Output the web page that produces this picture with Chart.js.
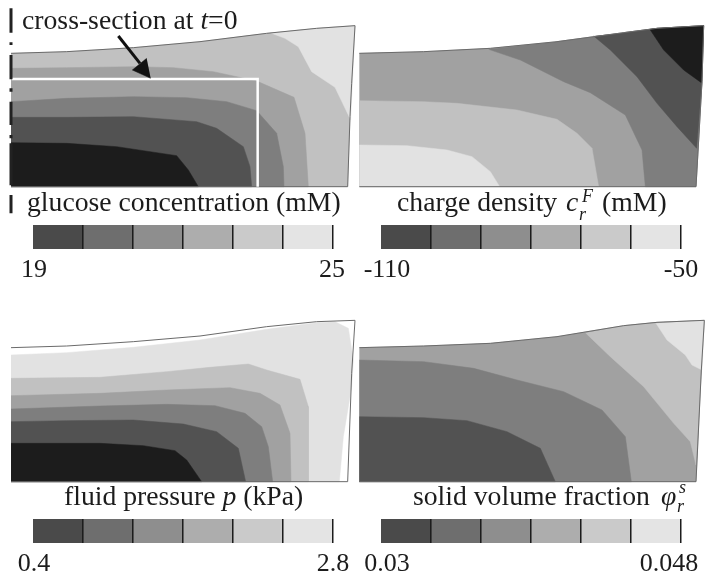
<!DOCTYPE html>
<html>
<head>
<meta charset="utf-8">
<script src="https://cdn.jsdelivr.net/npm/chart.js@4"></script>
<style>
  html, body { margin: 0; background: #fff; }
  #page { position: relative; width: 714px; height: 580px; overflow: hidden; font-family: "Liberation Serif", serif; color: #1c1c1c; }
  .box { position: absolute; }
  .cap { position: absolute; font-size: 27.7px; line-height: 30px; white-space: nowrap; }
  .mini { position: absolute; font-size: 18px; line-height: 18px; font-style: italic; }
</style>
</head>
<body>
<div id="page">
  <div class="box" style="left:0;top:0"><canvas id="c1" width="357" height="290"></canvas></div>
  <div class="box" style="left:357px;top:0"><canvas id="c2" width="357" height="290"></canvas></div>
  <div class="box" style="left:0;top:290px"><canvas id="c3" width="357" height="290"></canvas></div>
  <div class="box" style="left:357px;top:290px"><canvas id="c4" width="357" height="290"></canvas></div>
  <div class="box" style="left:0;top:225px"><canvas id="b1" width="357" height="60"></canvas></div>
  <div class="box" style="left:357px;top:225px"><canvas id="b2" width="357" height="60"></canvas></div>
  <div class="box" style="left:0;top:519px"><canvas id="b3" width="357" height="60"></canvas></div>
  <div class="box" style="left:357px;top:519px"><canvas id="b4" width="357" height="60"></canvas></div>

  <div class="cap" style="left:22px;top:5px">cross-section at <i>t</i>=0</div>
  <div class="cap" style="left:27px;top:187px">glucose concentration (mM)</div>
  <div class="cap" style="left:397px;top:187px">charge density</div>
  <div class="cap" style="left:566px;top:187px"><i>c</i></div>
  <div class="mini" style="left:582px;top:187px">F</div>
  <div class="mini" style="left:579px;top:205px">r</div>
  <div class="cap" style="left:602px;top:187px">(mM)</div>
  <div class="cap" style="left:64px;top:481px">fluid pressure <i>p</i> (kPa)</div>
  <div class="cap" style="left:413px;top:481px">solid volume fraction</div>
  <div class="cap" style="left:661px;top:481px"><i>φ</i></div>
  <div class="mini" style="left:679px;top:478px">s</div>
  <div class="mini" style="left:677px;top:497px">r</div>
</div>

<script>
// contour bands, one outline per grey level (1 unit = 1/3 px)
const GREYS = { k: '#1c1c1c', d: '#525252', m: '#7e7e7e', g: '#a1a1a1', l: '#c1c1c1', w: '#e2e2e2', n: '#ffffff' };
const BAR_GREYS = ['#4a4a4a', '#6e6e6e', '#8e8e8e', '#adadad', '#cacaca', '#e4e4e4'];

// glucose
const glucoseOutline = [[33,160],[200,155],[400,143],[600,125],[800,100],[950,85],[1065,77],[1055,250],[1050,350],[1043,560],[33,560]];
const glucoseW = [[810,98],[855,115],[895,140],[935,215],[1005,262],[1045,345],[1052,360],[1065,77],[950,85]];
const glucoseG = [[33,205],[200,203],[400,200],[520,203],[640,215],[770,243],[882,292],[915,400],[925,560],[33,560]];
const glucoseM = [[33,305],[200,295],[400,290],[560,293],[680,305],[770,332],[830,400],[850,500],[852,560],[33,560]];
const glucoseD = [[33,352],[200,352],[400,350],[590,365],[650,385],[730,440],[750,500],[755,560],[33,560]];
const glucoseK = [[33,428],[200,430],[350,440],[530,467],[565,510],[595,560],[33,560]];
const crossSection = [[35,237],[773,237],[773,560]];
const arrowShaft = [[355,108],[420,190]];
const arrowHead = [[440,175],[397,210],[452,235]];
const leftMarks = [[33,25],[33,98],null,[33,127],[33,135],null,[33,165],[33,238],null,[33,265],[33,275],null,[33,305],[33,375],null,[33,405],[33,415],null,[33,430],[33,556],null,[33,585],[33,640]];

// charge density
const chargeOutline = [[7,160],[200,155],[400,145],[600,125],[800,98],[900,85],[1040,77],[1035,245],[1017,560],[7,560]];
const chargeM = [[395,148],[490,180],[620,245],[700,278],[805,345],[855,450],[865,560],[1017,560],[1035,245],[1040,77],[900,85],[800,98],[600,125]];
const chargeD = [[710,108],[760,150],[840,230],[900,310],[960,380],[1019,445],[1035,245],[1040,77],[900,85],[800,98]];
const chargeK = [[878,87],[920,150],[980,210],[1033,248],[1040,77],[900,85]];
const chargeL = [[7,302],[200,305],[300,310],[480,330],[600,358],[660,400],[705,445],[725,560],[7,560]];
const chargeW = [[7,435],[150,437],[270,450],[345,470],[400,515],[428,560],[7,560]];

// fluid pressure
const pressureOutline = [[33,173],[200,168],[400,155],[600,138],[800,110],[950,95],[1065,91],[1055,250],[1043,575],[33,575]];
const pressureW = [[33,195],[200,188],[400,172],[600,150],[800,118],[950,98],[1005,95],[1045,115],[1060,210],[1055,290],[1030,440],[1018,575],[33,575]];
const pressureL = [[33,265],[300,262],[500,245],[630,232],[745,222],[800,240],[900,268],[925,350],[925,575],[33,575]];
const pressureG = [[33,317],[300,310],[500,300],[690,293],[780,310],[840,345],[870,430],[873,575],[33,575]];
const pressureM = [[33,357],[300,348],[500,343],[645,347],[735,370],[785,410],[805,470],[818,575],[33,575]];
const pressureD = [[33,395],[200,392],[400,390],[550,402],[650,425],[715,475],[737,575],[33,575]];
const pressureK = [[33,460],[300,460],[430,467],[525,482],[560,510],[605,575],[33,575]];

// solid volume fraction
const solidOutline = [[7,173],[200,168],[400,160],[600,140],[800,107],[900,97],[1042,91],[1033,240],[1017,575],[7,575]];
const solidL = [[685,128],[760,200],[860,290],[950,400],[1000,455],[1017,525],[1033,240],[1042,91],[900,97],[800,107]];
const solidW = [[897,100],[930,150],[985,195],[1005,225],[1035,240],[1042,91]];
const solidM = [[7,210],[200,215],[350,235],[480,270],[620,305],[735,360],[805,440],[823,575],[7,575]];
const solidD = [[7,380],[200,383],[330,392],[450,425],[550,475],[595,575],[7,575]];

// colour bar levels
const glucoseLevels = [19, 20, 21, 22, 23, 24, 25];
const chargeLevels = [-110, -100, -90, -80, -70, -60, -50];
const pressureLevels = [0.4, 0.8, 1.2, 1.6, 2.0, 2.4, 2.8];
const solidLevels = [0.03, 0.033, 0.036, 0.039, 0.042, 0.045, 0.048];

function toXY(pts) {
  return pts.map(p => p ? { x: p[0], y: p[1] } : { x: NaN, y: NaN });
}

function band(pts, grey) {
  return { data: toXY(pts), backgroundColor: grey, borderColor: grey, borderWidth: 0.5, fill: 'shape', pointRadius: 0, showLine: true };
}

function stroke(pts, color, width) {
  return { data: toXY(pts), borderColor: color, borderWidth: width, fill: false, pointRadius: 0, showLine: true, spanGaps: false };
}

function contour(id, datasets) {
  new Chart(document.getElementById(id), {
    type: 'scatter',
    // first dataset is painted last, so the list is flipped here
    data: { datasets: datasets.slice().reverse() },
    options: {
      responsive: false,
      animation: false,
      events: [],
      layout: { padding: 0 },
      plugins: { legend: { display: false }, tooltip: { enabled: false } },
      scales: {
        x: { display: false, min: 0, max: 1071 },
        y: { display: false, min: 0, max: 870, reverse: true }
      }
    }
  });
}

function colorBar(id, levels, left, right, first, last, nudgeFirst, nudgeLast) {
  const lo = levels[0], hi = levels[levels.length - 1];
  const perPx = (hi - lo) / 300;
  new Chart(document.getElementById(id), {
    type: 'bar',
    data: {
      labels: [''],
      datasets: BAR_GREYS.map((c, i) => ({
        data: [[levels[i], levels[i + 1]]],
        backgroundColor: c,
        barPercentage: 1,
        categoryPercentage: 1,
        grouped: false
      }))
    },
    options: {
      indexAxis: 'y',
      responsive: false,
      animation: false,
      events: [],
      layout: { padding: { left, right, top: 0, bottom: 0 } },
      plugins: { legend: { display: false }, tooltip: { enabled: false } },
      scales: {
        x: {
          min: lo,
          max: hi,
          afterBuildTicks: s => { s.ticks = levels.map(v => ({ value: v })); },
          ticks: { display: false },
          border: { display: false },
          grid: { z: 1, drawTicks: false, lineWidth: 1.5, color: c => c.index === 0 ? 'transparent' : '#1c1c1c' },
          afterFit: s => { s.height = 0; }
        },
        xl: {
          type: 'linear',
          position: 'bottom',
          min: lo,
          max: hi,
          border: { display: false },
          grid: { display: false, drawTicks: false },
          afterBuildTicks: s => { s.ticks = [{ value: lo + nudgeFirst * perPx }, { value: hi + nudgeLast * perPx }]; },
          afterTickToLabelConversion: s => { s.ticks[0].label = first; s.ticks[1].label = last; },
          // axis would otherwise stop at half the canvas and cut the labels
          afterFit: s => { s.height = 36; },
          ticks: { autoSkip: false, maxRotation: 0, padding: 6, color: '#1c1c1c', font: { family: 'Liberation Serif', size: 26 } }
        },
        y: { display: false }
      }
    }
  });
}

contour('c1', [
  band(glucoseOutline, GREYS.l), band(glucoseW, GREYS.w), band(glucoseG, GREYS.g),
  band(glucoseM, GREYS.m), band(glucoseD, GREYS.d), band(glucoseK, GREYS.k),
  stroke(glucoseOutline, '#6a6a6a', 1),
  stroke(crossSection, '#ffffff', 2.5),
  stroke(leftMarks, '#222222', 3),
  stroke(arrowShaft, '#111111', 3),
  band(arrowHead, '#111111')
]);
contour('c2', [
  band(chargeOutline, GREYS.g), band(chargeM, GREYS.m), band(chargeD, GREYS.d), band(chargeK, GREYS.k),
  band(chargeL, GREYS.l), band(chargeW, GREYS.w),
  stroke(chargeOutline, '#6a6a6a', 1)
]);
contour('c3', [
  band(pressureOutline, GREYS.n), band(pressureW, GREYS.w), band(pressureL, GREYS.l), band(pressureG, GREYS.g),
  band(pressureM, GREYS.m), band(pressureD, GREYS.d), band(pressureK, GREYS.k),
  stroke(pressureOutline, '#6a6a6a', 1)
]);
contour('c4', [
  band(solidOutline, GREYS.g), band(solidL, GREYS.l), band(solidW, GREYS.w),
  band(solidM, GREYS.m), band(solidD, GREYS.d),
  stroke(solidOutline, '#6a6a6a', 1)
]);

colorBar('b1', glucoseLevels, 33, 24, '19', '25', 1, -1);
colorBar('b2', chargeLevels, 24, 33, '-110', '-50', 6, 0);
colorBar('b3', pressureLevels, 33, 24, '0.4', '2.8', 1, 0);
colorBar('b4', solidLevels, 24, 33, '0.03', '0.048', 6, -12);
</script>
</body>
</html>
